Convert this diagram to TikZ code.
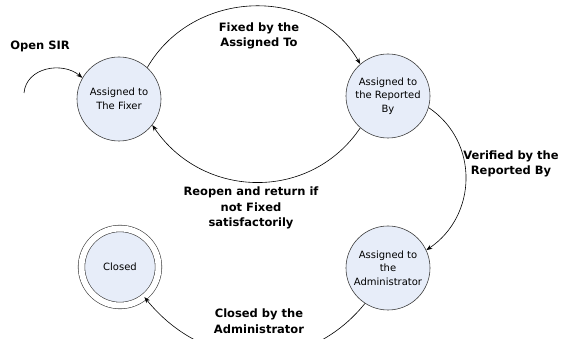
\documentclass[tikz,border=0pt]{standalone}
\usepackage{fontspec}
\setmainfont{DejaVu Sans}
\usepackage{xcolor}
\usetikzlibrary{arrows.meta}
\definecolor{StateFill}{RGB}{231,237,249}
\definecolor{StateLine}{RGB}{60,60,60}
\tikzset{
  statenode/.style={circle, draw=StateLine, line width=0.6pt, fill=StateFill, minimum size=84pt, inner sep=0pt, align=center, font=\fontsize{10}{13.5}\selectfont},
  finalnode/.style={statenode, minimum size=77pt, double, double distance=6pt},
  edgelabel/.style={align=center, font=\bfseries\fontsize{11.5}{15.5}\selectfont},
  trans/.style={->, line width=0.6pt},
}
\begin{document}
\begin{tikzpicture}[x=1pt, y=1pt, >={Stealth[length=6pt,width=4.5pt]}]
      \useasboundingbox (0,0) rectangle (576,339);
      \clip (0,0) rectangle (576,339);
      \node[statenode] (fixer) at (119,240) {Assigned to\\The Fixer};
      \node[statenode] (reported) at (388,243) {Assigned to\\the Reported\\By};
      \node[statenode] (admin) at (388,71) {Assigned to\\the\\Administrator};
      \node[finalnode] (closed) at (120,72) {Closed};
      \coordinate (sirstart) at (24,246);
      \node[edgelabel] (lopen) at (40,293) {Open SIR};
      \node[edgelabel] (lfixed) at (259,303) {Fixed by the\\Assigned To};
      \node[edgelabel] (lreopen) at (251,131) {Reopen and return if\\not Fixed\\satisfactorily};
      \node[edgelabel] (lverified) at (511,175) {Verified by the\\Reported By};
      \node[edgelabel] (lclosed) at (259,18) {Closed by the\\Administrator};
      \draw[trans] (sirstart) to[out=85, in=140, looseness=1.1] (fixer.150);
      \draw[trans] (fixer.48) to[out=60, in=120, looseness=1.1] (reported.131);
      \draw[trans] (reported.229) to[out=236, in=304, looseness=1.1] (fixer.322);
      \draw[trans] (reported.344) to[out=-34, in=34, looseness=1.1] (admin.25);
      \draw[trans] (admin.237) to[out=231, in=309, looseness=1.1] (closed.309);
    \end{tikzpicture}
\end{document}
